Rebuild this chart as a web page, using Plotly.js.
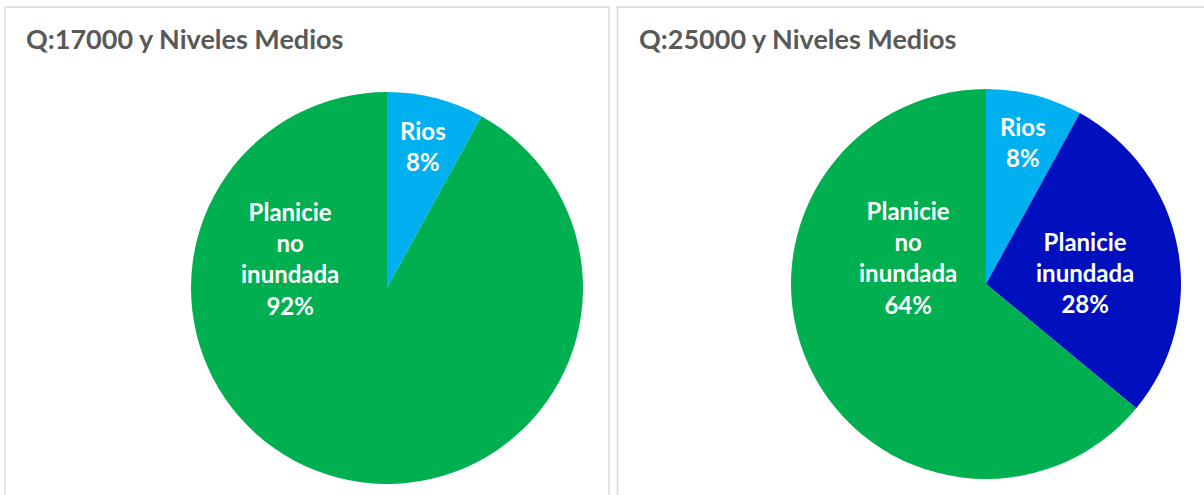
<!DOCTYPE html>
<html>
<head>
<meta charset="utf-8">
<script src="https://cdn.plot.ly/plotly-3.0.1.min.js"></script>
<style>html,body{margin:0;padding:0;background:#fff;}#chart{width:1204px;height:495px;}</style>
</head>
<body>
<div id="chart"></div>
<script>
// ---- data ----
const titles = ["Q:17000 y Niveles Medios", "Q:25000 y Niveles Medios"];
const labelsLeft = ["Rios", "Planicie no inundada"];
const valuesLeft = [8, 92];
const labelsRight = ["Rios", "Planicie inundada", "Planicie no inundada"];
const valuesRight = [8, 28, 64];
const labelTextLeft = ["Rios", "Planicie<br>no<br>inundada"];
const labelTextRight = ["Rios", "Planicie<br>inundada", "Planicie<br>no<br>inundada"];

// ---- styles / layout ----
const colorMap = {"Rios": "#00B0F0", "Planicie inundada": "#0010BE", "Planicie no inundada": "#00B050"};
const W = 1204, H = 495;
const px = x => x / W;
const py = y => 1 - y / H;

// pixel positions of label blocks (layout only)
const labelPosLeft = [[423, 146], [290, 258]];
const labelPosRight = [[1023, 142], [1085, 272], [908, 257]];

function pieTrace(labels, values, xd, yd) {
  return {
    type: "pie",
    labels: labels,
    values: values,
    sort: false,
    direction: "clockwise",
    rotation: 0,
    textinfo: "none",
    hoverinfo: "label+percent",
    marker: {colors: labels.map(l => colorMap[l]), line: {width: 0}},
    domain: {x: [px(xd[0]), px(xd[1])], y: [py(yd[1]), py(yd[0])]},
    showlegend: false
  };
}

const traces = [
  pieTrace(labelsLeft, valuesLeft, [191, 583], [92, 484]),
  pieTrace(labelsRight, valuesRight, [791, 1181], [89, 479])
];

const annotations = [];
function addLabels(texts, values, pos) {
  const total = values.reduce((a, b) => a + b, 0);
  texts.forEach((t, i) => {
    annotations.push({
      xref: "paper", yref: "paper",
      x: px(pos[i][0]), y: py(pos[i][1]),
      xanchor: "center", yanchor: "middle",
      text: t + "<br>" + Math.round(values[i] / total * 100) + "%",
      showarrow: false,
      align: "center",
      font: {family: "Lato, 'Open Sans', sans-serif", size: 24, color: "#FFFFFF", weight: "bold"}
    });
  });
}
addLabels(labelTextLeft, valuesLeft, labelPosLeft);
addLabels(labelTextRight, valuesRight, labelPosRight);

// titles
[[24, 38], [637, 38]].forEach((p, i) => {
  annotations.push({
    xref: "paper", yref: "paper",
    x: px(p[0]), y: py(p[1]),
    xanchor: "left", yanchor: "middle",
    text: titles[i], showarrow: false,
    font: {family: "Lato, 'Open Sans', sans-serif", size: 27, color: "#595959", weight: "bold"}
  });
});

const borderColor = "#D9D9D9";
const shapes = [
  {type: "rect", xref: "paper", yref: "paper", x0: px(5), x1: px(609), y0: py(500), y1: py(7), line: {color: borderColor, width: 1.5}, fillcolor: "rgba(0,0,0,0)"},
  {type: "rect", xref: "paper", yref: "paper", x0: px(617.5), x1: px(1210), y0: py(500), y1: py(7), line: {color: borderColor, width: 1.5}, fillcolor: "rgba(0,0,0,0)"}
];

const layout = {
  width: W, height: H,
  margin: {l: 0, r: 0, t: 0, b: 0},
  paper_bgcolor: "#FFFFFF",
  plot_bgcolor: "#FFFFFF",
  annotations: annotations,
  shapes: shapes,
  showlegend: false
};

Plotly.newPlot("chart", traces, layout, {displayModeBar: false, staticPlot: true});
</script>
</body>
</html>
